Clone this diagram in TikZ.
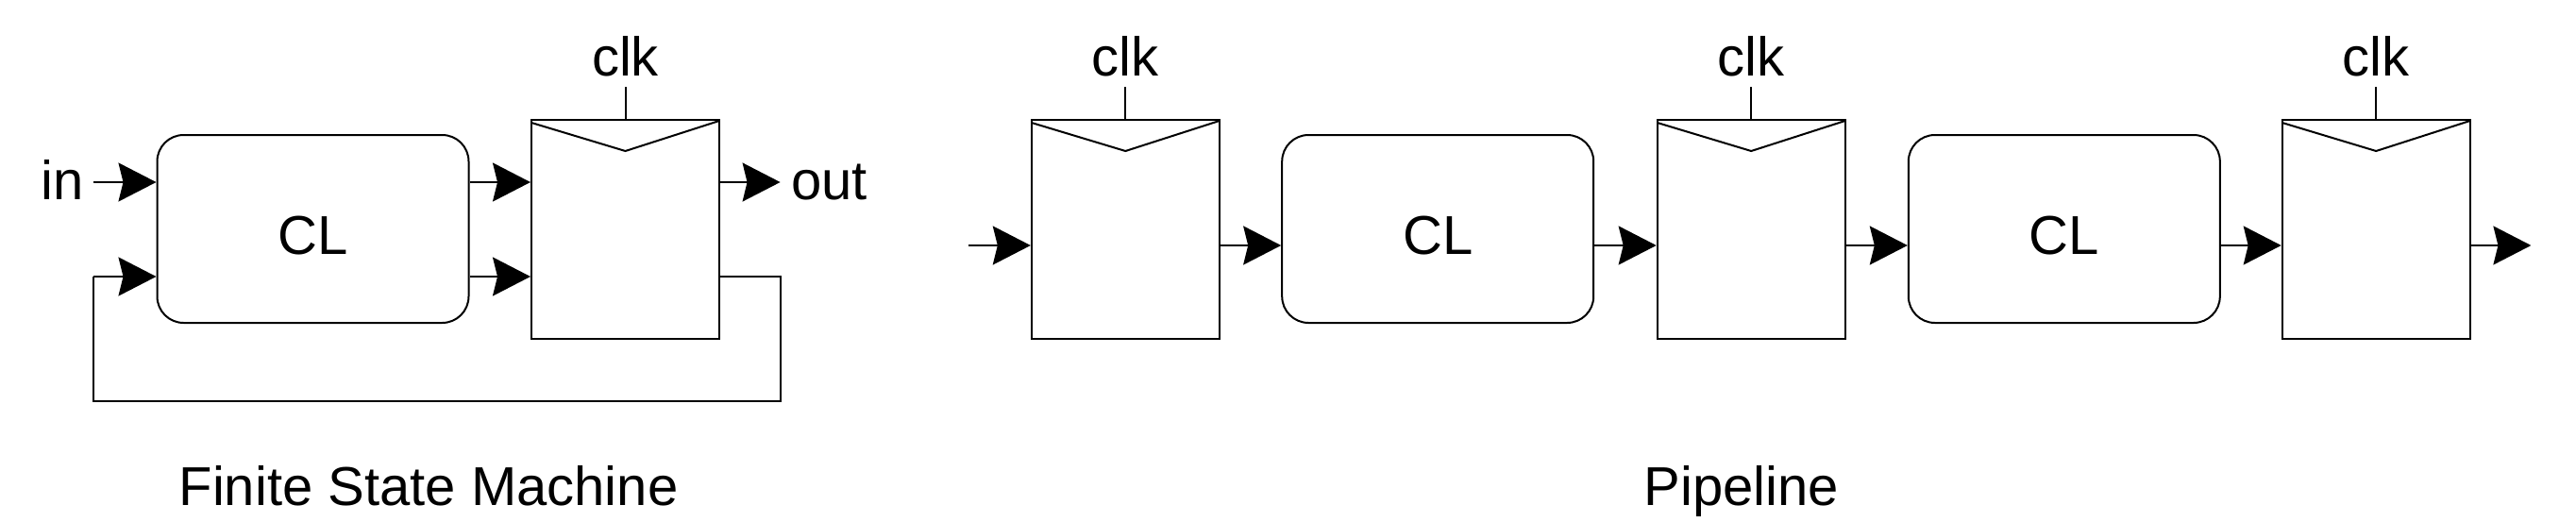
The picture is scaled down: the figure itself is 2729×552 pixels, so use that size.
\documentclass[tikz,border=0pt]{standalone}
\usepackage{fontspec}
\setmainfont{Liberation Sans}
\usetikzlibrary{arrows.meta,calc}
\tikzset{
  clbox/.style={draw, line width=2pt, rounded corners=28pt, minimum width=330pt, minimum height=199pt, inner sep=0pt},
  regbox/.style={draw, line width=2pt, minimum width=199pt, minimum height=232pt, inner sep=0pt,
    path picture={\draw[line width=2pt] ([yshift=-3pt]path picture bounding box.north west) -- ([yshift=-33pt]path picture bounding box.north) -- ([yshift=-1pt]path picture bounding box.north east);}},
  sig/.style={line width=2pt, -{Stealth[length=40pt,width=41pt,inset=5pt]}},
  wire/.style={line width=2pt},
  lbl/.style={font=\fontsize{58}{60}\selectfont, inner sep=0pt}
}
\begin{document}
\begin{tikzpicture}[x=1pt,y=-1pt]
\useasboundingbox (0,0) rectangle (2729,552);
% ---------- Finite State Machine ----------
\node[clbox] (fcl) at (331.5,242.5) {};
\node[lbl] (fcltxt) at ([yshift=-7.5pt]fcl.center) {CL};
\node[regbox] (freg) at (662.5,243) {};
\node[lbl, anchor=base] (fclk) at (662.5,80) {clk};
\draw[wire] (freg.north) -- ++(0,-34) coordinate (fclkend);
\node[lbl, anchor=base east] (fin) at (89,211) {in};
\coordinate (finstart) at (98.7,193);
\draw[sig] (finstart) -- (finstart -| fcl.west);
\draw[sig] ([yshift=49.5pt]fcl.east) -- ([yshift=49.5pt]fcl.east -| freg.west);
\draw[sig] ([yshift=-50.5pt]fcl.east) -- ([yshift=-50.5pt]fcl.east -| freg.west);
\coordinate (foutend) at (826.6,193);
\draw[sig] (foutend -| freg.east) -- (foutend);
\node[lbl, anchor=base west] (fout) at (838,211) {out};
\coordinate (fb1) at (826.6,293);
\coordinate (fb2) at (826.6,425);
\coordinate (fb3) at (98.7,425);
\coordinate (fb4) at (98.7,293);
\draw[wire] (fb1 -| freg.east) -- (fb1) -- (fb2) -- (fb3) -- (fb4);
\draw[sig] (fb4) -- (fb4 -| fcl.west);
\node[lbl, anchor=base] (fsmtitle) at (454,535) {Finite State Machine};
% ---------- Pipeline ----------
\node[regbox] (r1) at (1192.3,243) {};
\node[clbox] (c1) at (1523.2,242.5) {};
\node[lbl] (c1txt) at ([yshift=-7.5pt]c1.center) {CL};
\node[regbox] (r2) at (1855.2,243) {};
\node[clbox] (c2) at (2186.8,242.5) {};
\node[lbl] (c2txt) at ([yshift=-7.5pt]c2.center) {CL};
\node[regbox] (r3) at (2517.2,243) {};
\foreach \r in {r1,r2,r3}{
  \draw[wire] (\r.north) -- ++(0,-34);
  \node[lbl, anchor=base] at (\r.north |- 0,80) {clk};
}
\coordinate (pin) at (1025.8,260);
\coordinate (pout) at (2681.4,260);
\draw[sig] (pin) -- (pin -| r1.west);
\draw[sig] (pin -| r1.east) -- (pin -| c1.west);
\draw[sig] (pin -| c1.east) -- (pin -| r2.west);
\draw[sig] (pin -| r2.east) -- (pin -| c2.west);
\draw[sig] (pin -| c2.east) -- (pin -| r3.west);
\draw[sig] (pin -| r3.east) -- (pout);
\node[lbl, anchor=base] (pipetitle) at (1845,535) {Pipeline};
\end{tikzpicture}
\end{document}
